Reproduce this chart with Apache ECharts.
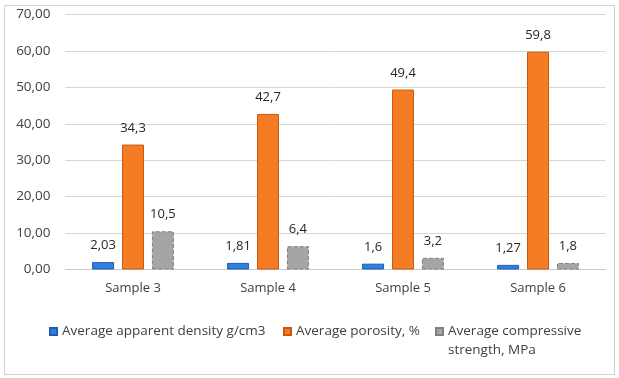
<!DOCTYPE html>
<html><head><meta charset="utf-8">
<script src="https://cdn.jsdelivr.net/npm/echarts@6/dist/echarts.min.js"></script>
<style>html,body{margin:0;padding:0;background:#fff}#c{width:619px;height:378px}</style>
</head><body><div id="c"></div>
<script>
const categories = ['Sample 3', 'Sample 4', 'Sample 5', 'Sample 6'];
const density = [2.03, 1.81, 1.6, 1.27];
const porosity = [34.3, 42.7, 49.4, 59.8];
const strength = [10.5, 6.4, 3.2, 1.8];
const seriesNames = ['Average apparent density g/cm3', 'Average porosity, %', 'Average compressive strength, MPa'];
const yTicks = { min: 0, max: 70, interval: 10 };

const font = '"Open Sans", "Noto Sans", sans-serif';
const fmt = p => String(p.value).replace('.', ',');
const lbl = { show: true, position: 'top', distance: 10, color: '#262626', fontSize: 13, fontFamily: font, formatter: fmt };
const legTxt = { color: '#404040', fontSize: 13.5, fontFamily: font, lineHeight: 19 };
const mkLegend = (i, left, top, extra) => Object.assign({
  left: left, top: top, padding: 0, itemWidth: 7, itemHeight: 7, icon: 'rect', selectedMode: false,
  textStyle: Object.assign({}, legTxt), data: [seriesNames[i]]
}, extra || {});
const chart = echarts.init(document.getElementById('c'), null, { renderer: 'canvas' });
chart.setOption({
  animation: false,
  graphic: [{ type: 'rect', shape: { x: 4.5, y: 5.5, width: 610, height: 369 }, style: { fill: 'none', stroke: '#d0d0d0', lineWidth: 1 }, silent: true }],
  grid: { left: 65.5, right: 13.5, top: 14.5, bottom: 108.5, containLabel: false },
  legend: [
    mkLegend(0, 49, 322),
    mkLegend(1, 283, 322),
    mkLegend(2, 435, 303, {
      formatter: () => ' \nAverage compressive\nstrength, MPa'
    })
  ],
  xAxis: {
    type: 'category', data: categories,
    axisLine: { lineStyle: { color: '#c8c8c8', width: 1 } }, axisTick: { show: false },
    axisLabel: { color: '#404040', fontSize: 13, fontFamily: font, margin: 12 }
  },
  yAxis: {
    type: 'value', min: yTicks.min, max: yTicks.max, interval: yTicks.interval,
    axisLine: { show: false }, axisTick: { show: false },
    axisLabel: { color: '#404040', fontSize: 13.5, fontFamily: font, margin: 15, formatter: v => v.toFixed(2).replace('.', ',') },
    splitLine: { lineStyle: { color: '#d6d6d6', width: 1 } }
  },
  series: [
    { name: seriesNames[0], type: 'bar', data: density, barWidth: 22, barGap: '36%', label: lbl,
      itemStyle: { color: '#2F7FE0', borderColor: '#1f5fb0', borderWidth: 1 } },
    { name: seriesNames[1], type: 'bar', data: porosity, barWidth: 22, barGap: '36%', label: lbl,
      itemStyle: { color: '#F57C22', borderColor: '#c85a10', borderWidth: 1 } },
    { name: seriesNames[2], type: 'bar', data: strength, barWidth: 22, barGap: '36%', label: lbl,
      itemStyle: { color: '#A5A5A5', borderColor: '#808080', borderWidth: 1, borderType: 'dashed' } }
  ]
});
</script></body></html>
